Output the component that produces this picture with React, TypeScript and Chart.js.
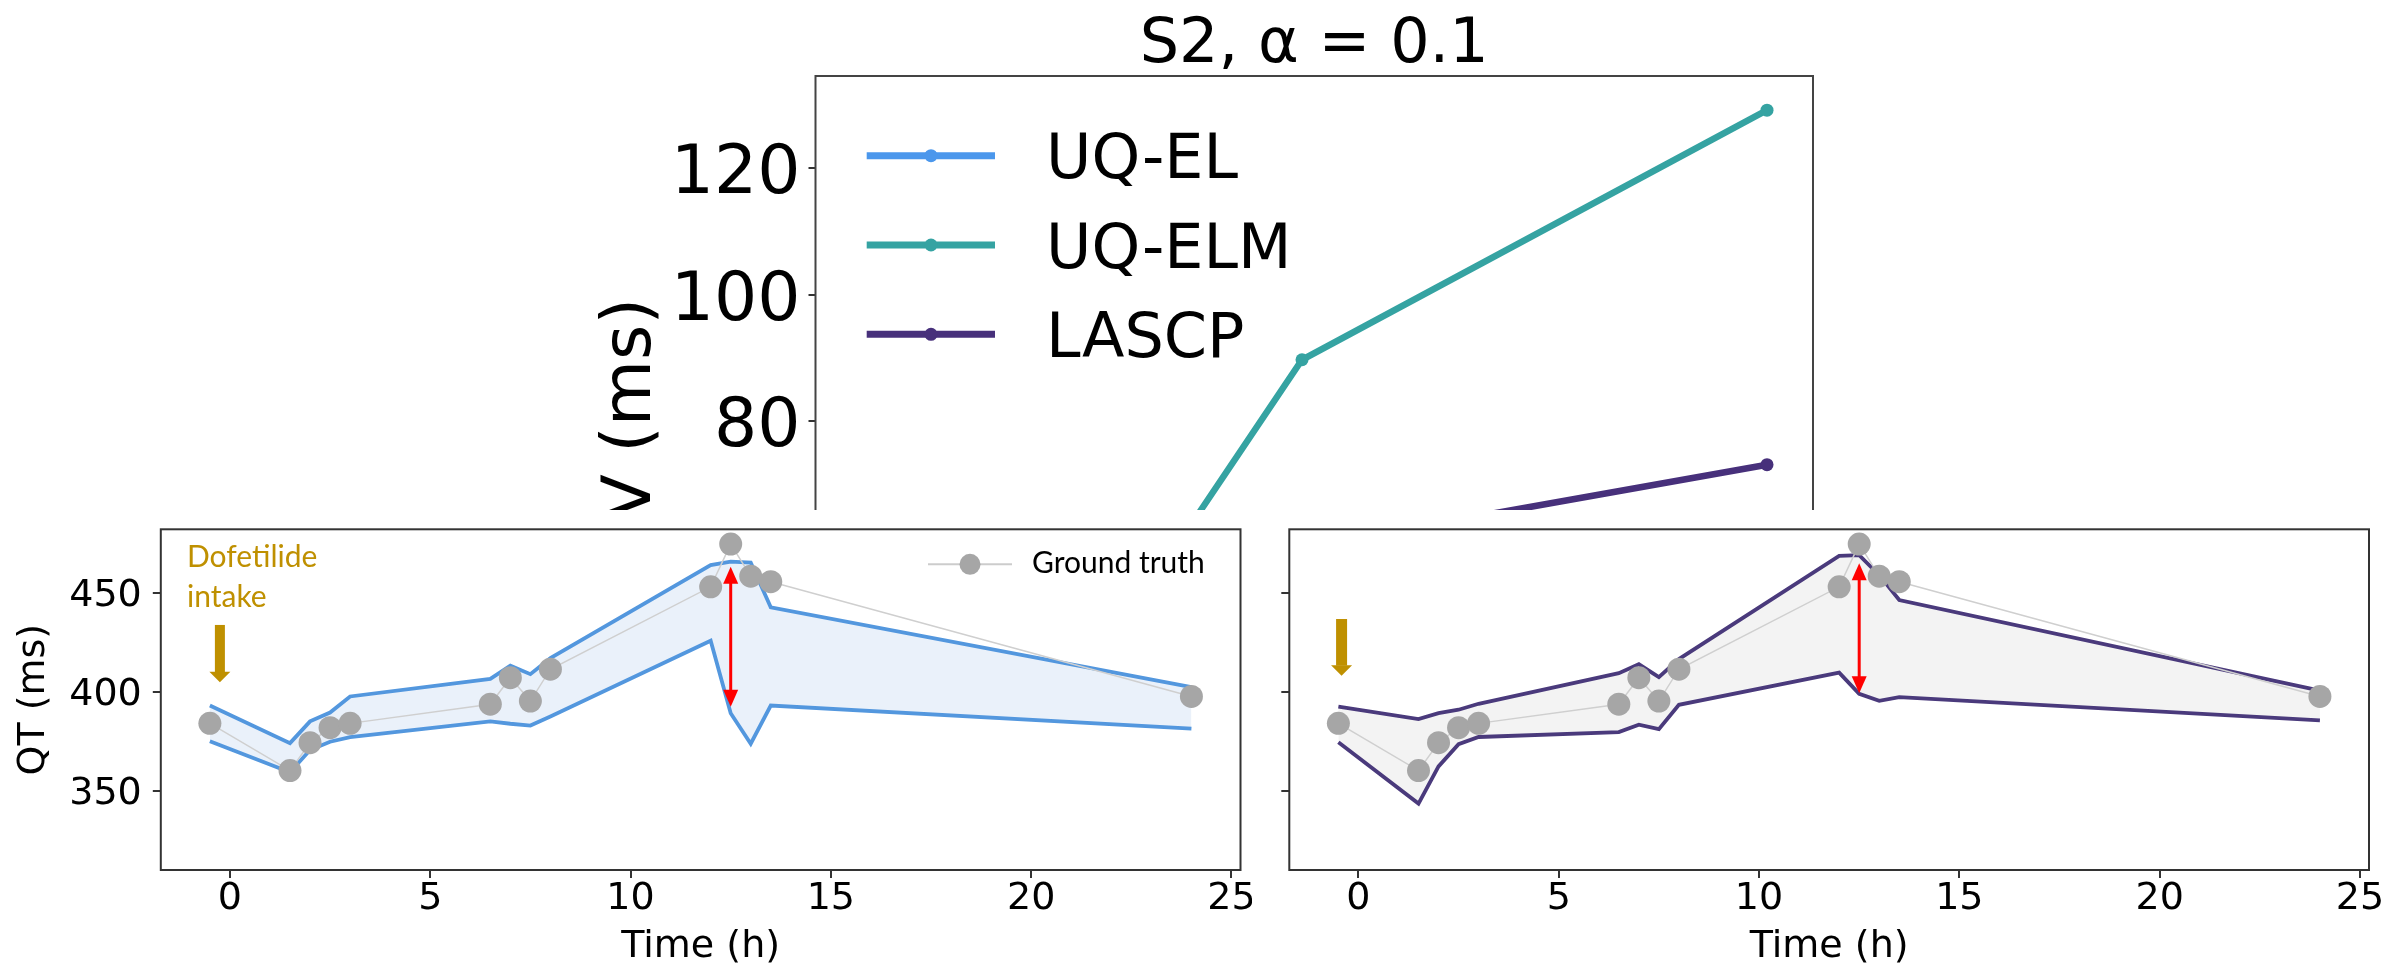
import React, { useEffect, useRef } from 'react';
import { Chart, registerables } from 'chart.js';

Chart.register(...registerables);

// ---------- Top chart data ----------
const topTitle = 'S2, α = 0.1';
const topYLabel = 'V (ms)';
const topSeriesNames = ['UQ-EL', 'UQ-ELM', 'LASCP'];
const topColors = ['#4b97ec', '#35a3a2', '#47307b'];
const topX = [1.5, 2, 3];
const uqElWidth = [28, 40, 55];
const uqElmWidth = [35.0, 89.7, 129.2];
const lascpWidth = [52, 60.0, 73.1];
const topTicks = [20, 40, 60, 80, 100, 120];

// ---------- Bottom panels data ----------
const timeH = [-0.5, 1.5, 2, 2.5, 3, 6.5, 7, 7.5, 8, 12, 12.5, 13, 13.5, 24];
const groundTruth = [384.2, 360.3, 374.4, 382.0, 384.2, 393.9, 407.3, 395.5, 411.6, 453.3, 474.9, 458.7, 455.9, 397.8];
const uqElUpper = [393.2, 374.2, 385.2, 389.7, 397.8, 406.7, 413.4, 409.1, 417.2, 464.3, 466.0, 465.6, 442.9, 402.5];
const uqElLower = [375.1, 359.5, 370.7, 374.9, 377.2, 385.2, 384.0, 383.1, 387.7, 426.0, 389.3, 373.9, 393.2, 381.5];
const lascpUpper = [392.7, 386.4, 389.4, 391.1, 394.1, 409.6, 414.1, 407.6, 416.7, 469.0, 469.3, 459.2, 446.6, 400.8];
const lascpLower = [374.7, 343.6, 362.4, 373.7, 377.3, 379.8, 383.5, 381.3, 393.6, 409.9, 399.1, 395.6, 397.5, 385.7];
const timeTicks = [0, 5, 10, 15, 20, 25];
const qtTicks = [350, 400, 450];
const widthArrowLeft = [463.5, 392.6];
const widthArrowRight = [465.2, 399.4];
const widthArrowTime = 12.5;
const doseArrowLeft = [-0.25, 434, 405];
const doseArrowRight = [-0.42, 437, 408.3];
const doseText = ['Dofetilide', 'intake'];
const gtLabel = 'Ground truth';

const FONT = 'DejaVu Sans';
const CALLI = 'Lato';

function framePlugin(color: string, width: number) {
  return {
    id: 'frame',
    afterDraw(chart: any) {
      const { ctx, chartArea: a } = chart;
      ctx.save();
      ctx.strokeStyle = color;
      ctx.lineWidth = width;
      ctx.strokeRect(a.left, a.top, a.right - a.left, a.bottom - a.top);
      ctx.restore();
    },
  };
}

function noPad(s: any) {
  s.paddingTop = 0;
  s.paddingBottom = 0;
  s.paddingLeft = 0;
  s.paddingRight = 0;
}

function makeTop(canvas: HTMLCanvasElement) {
  const values = [uqElWidth, uqElmWidth, lascpWidth];
  const datasets = topSeriesNames.map((name, i) => ({
    label: name,
    data: topX.map((x, j) => ({ x, y: values[i][j] })),
    borderColor: topColors[i],
    backgroundColor: topColors[i],
    borderWidth: 6.5,
    pointRadius: 6.5,
    pointBorderWidth: 0,
    pointBackgroundColor: topColors[i],
    fill: false,
    tension: 0,
  }));
  const textPlugin = {
    id: 'topText',
    afterDraw(chart: any) {
      const { ctx, chartArea: a } = chart;
      ctx.save();
      ctx.fillStyle = '#000';
      ctx.font = `62px "${FONT}"`;
      ctx.textAlign = 'center';
      ctx.textBaseline = 'alphabetic';
      ctx.fillText(topTitle, (a.left + a.right) / 2, 61.5);
      // legend
      const ly = [155.7, 245, 334.3];
      chart.data.datasets.forEach((ds: any, i: number) => {
        ctx.strokeStyle = ds.borderColor;
        ctx.lineWidth = 7;
        ctx.beginPath();
        ctx.moveTo(866.7, ly[i]);
        ctx.lineTo(995, ly[i]);
        ctx.stroke();
        ctx.fillStyle = ds.borderColor;
        ctx.beginPath();
        ctx.arc(931, ly[i], 6.5, 0, Math.PI * 2);
        ctx.fill();
        ctx.fillStyle = '#000';
        ctx.textAlign = 'left';
        ctx.font = `62px "${FONT}"`;
        ctx.fillText(ds.label, 1046, ly[i] + 22.6);
      });
      // y label
      ctx.translate(650, 298);
      ctx.rotate(-Math.PI / 2);
      ctx.font = `68px "${FONT}"`;
      ctx.textAlign = 'right';
      ctx.fillStyle = '#000';
      ctx.fillText(topYLabel, 0, 0);
      ctx.restore();
    },
  };
  return new Chart(canvas, {
    type: 'line',
    data: { datasets: datasets as any },
    options: {
      animation: false,
      responsive: false,
      devicePixelRatio: 1,
      events: [],
      layout: { padding: { left: 560, right: 569, top: 76, bottom: 96.5 } },
      plugins: { legend: { display: false }, tooltip: { enabled: false }, title: { display: false } },
      scales: {
        x: { type: 'linear', display: false, min: 0.9538, max: 3.0989 },
        y: {
          type: 'linear',
          min: 10,
          max: 134.6,
          afterFit: (s: any) => { s.width = 255.5; noPad(s); },
          afterBuildTicks: (s: any) => { s.ticks = topTicks.map((v) => ({ value: v })); },
          border: { display: false },
          grid: { display: true, drawOnChartArea: false, drawTicks: true, tickLength: 7, color: '#333', lineWidth: 2 },
          ticks: { color: '#000', padding: 8, labelOffset: 7.5, font: { family: FONT, size: 68, lineHeight: 1 } },
        },
      },
    } as any,
    plugins: [framePlugin('#444', 2), textPlugin],
  });
}

interface PanelCfg {
  upper: number[];
  lower: number[];
  lineColor: string;
  fillColor: string;
  yWidth: number;
  padRight: number;
  yLabels: boolean;
  widthArrow: number[];
  doseArrow: number[];
  doseShaft: number;
  showDoseText: boolean;
  showLegend: boolean;
}

function makePanel(canvas: HTMLCanvasElement, cfg: PanelCfg) {
  const toPts = (arr: number[]) => timeH.map((t, i) => ({ x: t, y: arr[i] }));
  const annot = {
    id: 'annot',
    afterDatasetsDraw(chart: any) {
      const { ctx } = chart;
      const xs = chart.scales.x;
      const ys = chart.scales.y;
      ctx.save();
      // red double arrow
      const rx = xs.getPixelForValue(widthArrowTime);
      const ry1 = ys.getPixelForValue(cfg.widthArrow[0]);
      const ry2 = ys.getPixelForValue(cfg.widthArrow[1]);
      const hl = 17, hw = 15;
      ctx.strokeStyle = '#ff0000';
      ctx.fillStyle = '#ff0000';
      ctx.lineWidth = 3;
      ctx.beginPath();
      ctx.moveTo(rx, ry1 + hl - 2);
      ctx.lineTo(rx, ry2 - hl + 2);
      ctx.stroke();
      ctx.beginPath();
      ctx.moveTo(rx, ry1);
      ctx.lineTo(rx - hw / 2, ry1 + hl);
      ctx.lineTo(rx + hw / 2, ry1 + hl);
      ctx.closePath();
      ctx.fill();
      ctx.beginPath();
      ctx.moveTo(rx, ry2);
      ctx.lineTo(rx - hw / 2, ry2 - hl);
      ctx.lineTo(rx + hw / 2, ry2 - hl);
      ctx.closePath();
      ctx.fill();
      // gold dose arrow
      const gx = xs.getPixelForValue(cfg.doseArrow[0]);
      const gy1 = ys.getPixelForValue(cfg.doseArrow[1]);
      const gy2 = ys.getPixelForValue(cfg.doseArrow[2]);
      const ghl = 10.6, ghw = 21;
      ctx.fillStyle = '#bf9000';
      ctx.fillRect(gx - cfg.doseShaft / 2, gy1, cfg.doseShaft, gy2 - ghl - gy1 + 0.5);
      ctx.beginPath();
      ctx.moveTo(gx, gy2);
      ctx.lineTo(gx - ghw / 2, gy2 - ghl);
      ctx.lineTo(gx + ghw / 2, gy2 - ghl);
      ctx.closePath();
      ctx.fill();
      if (cfg.showDoseText) {
        ctx.font = `30px "${CALLI}"`;
        ctx.textAlign = 'left';
        ctx.textBaseline = 'alphabetic';
        ctx.fillText(doseText[0], 187, 57);
        ctx.fillText(doseText[1], 187, 97);
      }
      if (cfg.showLegend) {
        ctx.strokeStyle = '#cccccc';
        ctx.lineWidth = 2;
        ctx.beginPath();
        ctx.moveTo(928, 54.3);
        ctx.lineTo(1012, 54.3);
        ctx.stroke();
        ctx.fillStyle = '#a6a6a6';
        ctx.beginPath();
        ctx.arc(970, 54.3, 10.5, 0, Math.PI * 2);
        ctx.fill();
        ctx.fillStyle = '#000';
        ctx.font = `30px "${CALLI}"`;
        ctx.textAlign = 'left';
        ctx.textBaseline = 'alphabetic';
        ctx.fillText(gtLabel, 1032, 62.7);
      }
      ctx.restore();
    },
  };
  return new Chart(canvas, {
    type: 'line',
    data: {
      datasets: [
        {
          label: gtLabel,
          data: toPts(groundTruth),
          borderColor: '#cfcfcf',
          borderWidth: 1.5,
          pointRadius: 11.5,
          pointBorderWidth: 0,
          pointBackgroundColor: '#a6a6a6',
          fill: false,
          tension: 0,
        },
        {
          label: 'upper',
          data: toPts(cfg.upper),
          borderColor: cfg.lineColor,
          backgroundColor: cfg.fillColor,
          borderWidth: 3.8,
          pointRadius: 0,
          fill: '+1',
          tension: 0,
        },
        {
          label: 'lower',
          data: toPts(cfg.lower),
          borderColor: cfg.lineColor,
          borderWidth: 3.8,
          pointRadius: 0,
          fill: false,
          tension: 0,
        },
      ] as any,
    },
    options: {
      animation: false,
      responsive: false,
      devicePixelRatio: 1,
      events: [],
      layout: { padding: { left: 0, right: cfg.padRight, top: 19.3, bottom: 0 } },
      plugins: {
        legend: { display: false },
        tooltip: { enabled: false },
        title: { display: false },
        filler: { drawTime: 'beforeDatasetsDraw' },
      },
      scales: {
        x: {
          type: 'linear',
          min: -1.725,
          max: 25.225,
          afterFit: (s: any) => { s.height = 96; noPad(s); },
          afterBuildTicks: (s: any) => { s.ticks = timeTicks.map((v) => ({ value: v })); },
          border: { display: false },
          grid: { display: true, drawOnChartArea: false, drawTicks: true, tickLength: 8, color: '#333', lineWidth: 2 },
          ticks: { color: '#000', padding: 2, maxRotation: 0, font: { family: FONT, size: 38, lineHeight: 1 } },
          title: { display: true, text: 'Time (h)', color: '#000', padding: { top: 0, bottom: 0 }, font: { family: FONT, size: 38, lineHeight: 1 } },
        },
        y: {
          type: 'linear',
          min: 310,
          max: 482.4,
          afterFit: (s: any) => { s.width = cfg.yWidth; noPad(s); },
          afterBuildTicks: (s: any) => { s.ticks = qtTicks.map((v) => ({ value: v })); },
          border: { display: false },
          grid: { display: true, drawOnChartArea: false, drawTicks: true, tickLength: 8, color: '#333', lineWidth: 2 },
          ticks: {
            color: '#000',
            padding: 11,
            labelOffset: 3,
            font: { family: FONT, size: 38, lineHeight: 1 },
            callback: (v: any) => (cfg.yLabels ? String(v) : ''),
          },
          title: cfg.yLabels
            ? { display: true, text: 'QT (ms)', color: '#000', padding: { top: 15, bottom: 0 }, font: { family: FONT, size: 38, lineHeight: 1 } }
            : { display: false },
        },
      },
    } as any,
    plugins: [annot, framePlugin('#333', 2)],
  });
}

export default function App() {
  const topRef = useRef<HTMLCanvasElement>(null);
  const leftRef = useRef<HTMLCanvasElement>(null);
  const rightRef = useRef<HTMLCanvasElement>(null);

  useEffect(() => {
    document.body.style.margin = '0';
    const charts: Chart[] = [];
    charts.push(makeTop(topRef.current!));
    charts.push(
      makePanel(leftRef.current!, {
        upper: uqElUpper,
        lower: uqElLower,
        lineColor: '#5397de',
        fillColor: '#eaf1fa',
        yWidth: 160.8,
        padRight: 11,
        yLabels: true,
        widthArrow: widthArrowLeft,
        doseArrow: doseArrowLeft,
        doseShaft: 10,
        showDoseText: true,
        showLegend: true,
      })
    );
    charts.push(
      makePanel(rightRef.current!, {
        upper: lascpUpper,
        lower: lascpLower,
        lineColor: '#4a3a7c',
        fillColor: '#f3f3f3',
        yWidth: 37.3,
        padRight: 13,
        yLabels: false,
        widthArrow: widthArrowRight,
        doseArrow: doseArrowRight,
        doseShaft: 11,
        showDoseText: false,
        showLegend: false,
      })
    );
    return () => charts.forEach((c) => c.destroy());
  }, []);

  return (
    <div style={{ position: 'absolute', left: 0, top: 0, width: 2382, height: 966, background: '#fff', overflow: 'hidden' }}>
      <div style={{ position: 'absolute', left: 0, top: 0, width: 2382, height: 510, overflow: 'hidden' }}>
        <canvas ref={topRef} width={2382} height={960} style={{ display: 'block' }} />
      </div>
      <div style={{ position: 'absolute', left: 0, top: 510, width: 1252, height: 456, background: '#fff' }}>
        <canvas ref={leftRef} width={1252} height={456} style={{ display: 'block' }} />
      </div>
      <div style={{ position: 'absolute', left: 1252, top: 510, width: 1130, height: 456, background: '#fff' }}>
        <canvas ref={rightRef} width={1130} height={456} style={{ display: 'block' }} />
      </div>
    </div>
  );
}
